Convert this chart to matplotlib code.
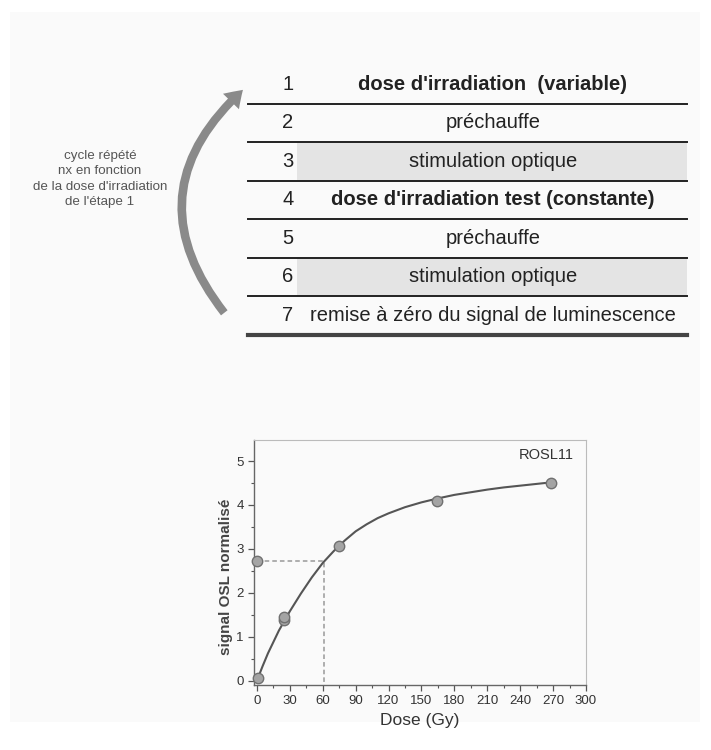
import numpy as np
import matplotlib
matplotlib.use("Agg")
import matplotlib.pyplot as plt
from matplotlib.patches import FancyArrowPatch, Rectangle

plt.rcParams["font.family"] = ["Liberation Sans", "DejaVu Sans"]

# protocol table
step_num = ["1", "2", "3", "4", "5", "6", "7"]
step_txt = ["dose d'irradiation  (variable)", "préchauffe", "stimulation optique",
            "dose d'irradiation test (constante)", "préchauffe", "stimulation optique",
            "remise à zéro du signal de luminescence"]
step_bold = [True, False, False, True, False, False, False]
step_shade = [False, False, True, False, False, True, False]
cycle_txt = "cycle répété\nnx en fonction\nde la dose d'irradiation\nde l'étape 1"

# dose response data
dose_pts = [0.5, 24.6, 24.8, 74.8, 164, 268.5]
sig_pts = [0.06, 1.37, 1.44, 3.07, 4.09, 4.51]
de_sig = 2.72
de_dose = 61.5
curve_dose = [0, 5, 10, 20, 30, 40, 50, 60, 70, 80, 90, 100, 110, 120, 135, 150,
              165, 180, 195, 210, 225, 240, 255, 270]
curve_sig = [0, 0.32, 0.62, 1.14, 1.58, 1.98, 2.35, 2.68, 2.95, 3.19, 3.40, 3.56,
             3.70, 3.81, 3.95, 4.06, 4.15, 4.23, 4.29, 4.35, 4.40, 4.44, 4.48, 4.52]
x_ticks = [0, 30, 60, 90, 120, 150, 180, 210, 240, 270, 300]
y_ticks = [0, 1, 2, 3, 4, 5]

W, H = 711, 750
fig = plt.figure(figsize=(W / 100, H / 100), dpi=100)
fig.patch.set_facecolor("white")

# full-figure axes in pixel coords for the table part
bg = fig.add_axes([0, 0, 1, 1])
bg.set_xlim(0, W)
bg.set_ylim(H, 0)
bg.axis("off")
bg.add_patch(Rectangle((10, 12), 690, 710, facecolor="#fafafa", edgecolor="none"))

row_top = 65
row_h = 38.5
x0, x1 = 248, 687
for i in range(len(step_num)):
    yc = row_top + row_h * (i + 0.5)
    if step_shade[i]:
        bg.add_patch(Rectangle((297, row_top + row_h * i + 1), x1 - 297, row_h - 2,
                               facecolor="#e4e4e4", edgecolor="none"))
    bg.text(288, yc, step_num[i], ha="center", va="center", fontsize=14.5, color="#222")
    bg.text(493, yc, step_txt[i], ha="center", va="center", fontsize=14.5, color="#222",
            fontweight="bold" if step_bold[i] else "normal")
    yl = row_top + row_h * (i + 1)
    if i < len(step_num) - 1:
        bg.plot([x0, x1], [yl, yl], color="#222", lw=1.4)
    else:
        bg.plot([x0, x1], [yl, yl], color="#444", lw=3.0)

bg.text(100, 179, cycle_txt, ha="center", va="center", fontsize=9.6, color="#555",
        linespacing=1.4)

arr = FancyArrowPatch((226, 315), (245, 88), connectionstyle="arc3,rad=-0.47",
                      arrowstyle="simple,head_length=12,head_width=16,tail_width=6",
                      color="#8a8a8a", mutation_scale=1, lw=0)
bg.add_patch(arr)

# dose response plot
ax = fig.add_axes([254 / W, 1 - 685 / H, 332 / W, 245 / H])
ax.set_facecolor("#fafafa")
ax.plot(curve_dose, curve_sig, color="#555", lw=1.5, zorder=2)
ax.plot([0, de_dose, de_dose], [de_sig, de_sig, -0.1], color="#999", lw=1.1,
        ls=(0, (3, 2)), zorder=1)
ax.plot(dose_pts + [0], sig_pts + [de_sig], "o", ms=7.5, mfc="#a4a4a4", mec="#707070",
        mew=1.0, zorder=3, clip_on=False)
ax.text(264, 5.14, "ROSL11", ha="center", va="center", fontsize=10.5, color="#333")
ax.set_xlim(-2.7, 300)
ax.set_ylim(-0.1, 5.48)
ax.set_xticks(x_ticks)
ax.set_yticks(y_ticks)
ax.set_xticks(np.arange(15, 300, 30), minor=True)
ax.set_yticks(np.arange(0.5, 5.5, 1), minor=True)
ax.tick_params(which="both", direction="out", colors="#555", labelcolor="#333", labelsize=9.5)
ax.tick_params(which="major", length=4, width=0.9)
ax.tick_params(which="minor", length=2, width=0.8)
for s in ["left", "bottom"]:
    ax.spines[s].set_color("#666")
    ax.spines[s].set_linewidth(1.0)
for s in ["top", "right"]:
    ax.spines[s].set_color("#bbb")
    ax.spines[s].set_linewidth(0.8)
ax.set_xlabel("Dose (Gy)", fontsize=12.5, color="#333")
ax.set_ylabel("signal OSL normalisé", fontsize=11, fontweight="bold", color="#444")
ax.xaxis.set_label_coords((420 - 254) / 332, (685 - 713) / 245)
ax.yaxis.set_label_coords((233 - 254) / 332, (685 - 577) / 245)

fig.savefig("out.png", dpi=100)
